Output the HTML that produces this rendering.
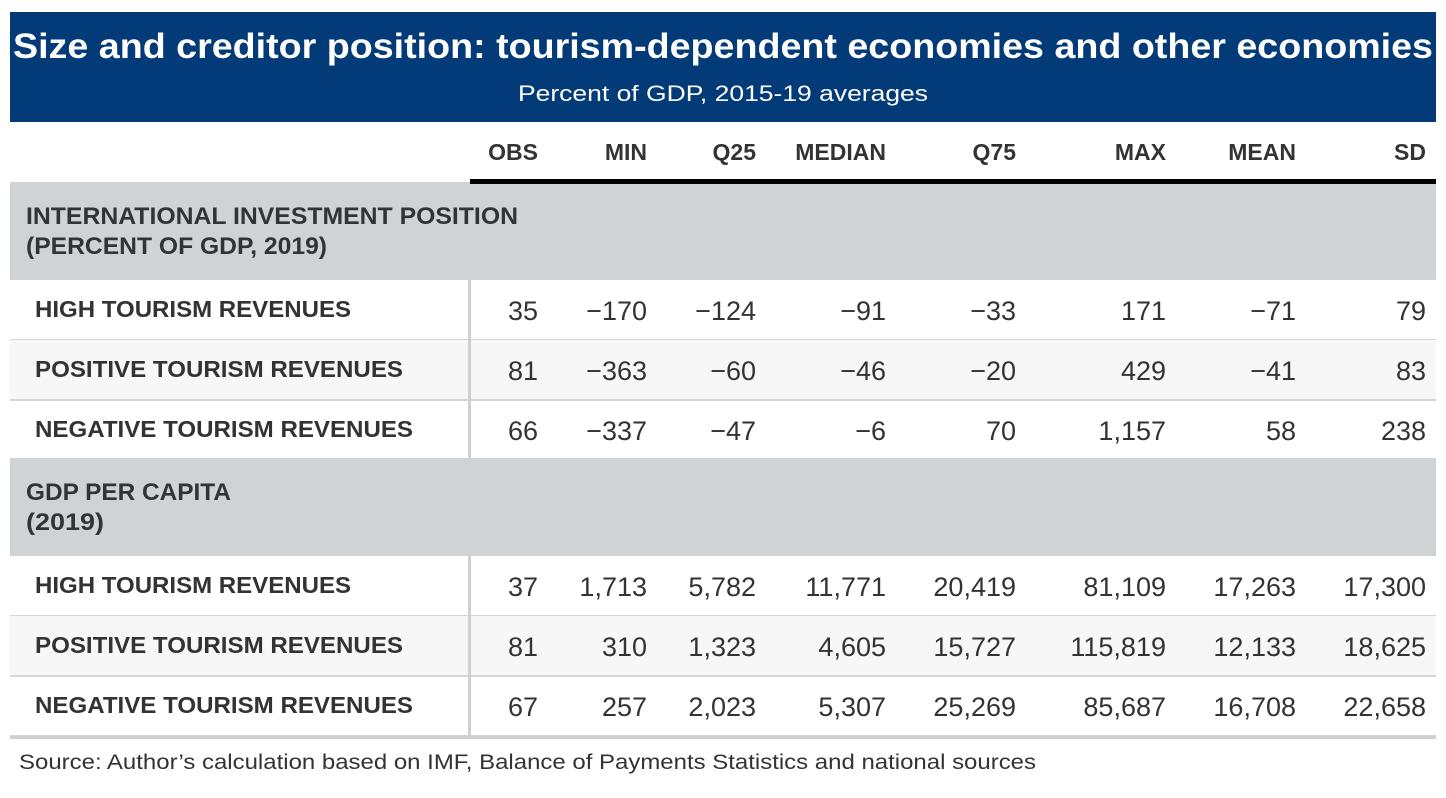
<!DOCTYPE html>
<html><head><meta charset="utf-8"><style>
html,body{margin:0;padding:0;background:#fff;}
svg{display:block;font-family:"Liberation Sans",Arial,sans-serif;}
</style></head><body>
<svg id="t" width="1446" height="798" xmlns="http://www.w3.org/2000/svg">
<rect x="10" y="12" width="1426" height="110" fill="#033a78"/>
<text x="723" y="58" text-anchor="middle" fill="#fff" font-size="35" font-weight="bold" textLength="1420" lengthAdjust="spacingAndGlyphs">Size and creditor position: tourism-dependent economies and other economies</text>
<text x="723" y="101" text-anchor="middle" fill="#fff" font-size="22" textLength="410" lengthAdjust="spacingAndGlyphs">Percent of GDP, 2015-19 averages</text>
<g id="body"></g>
<text x="19" y="769" fill="#333" font-size="21" textLength="1017" lengthAdjust="spacingAndGlyphs">Source: Author’s calculation based on IMF, Balance of Payments Statistics and national sources</text>
</svg>
<script>
const columns=["OBS","MIN","Q25","MEDIAN","Q75","MAX","MEAN","SD"];
const rowLabels=["HIGH TOURISM REVENUES","POSITIVE TOURISM REVENUES","NEGATIVE TOURISM REVENUES"];
const sectionTitles=[["INTERNATIONAL INVESTMENT POSITION","(PERCENT OF GDP, 2019)"],["GDP PER CAPITA","(2019)"]];
const iipValues=[["35","−170","−124","−91","−33","171","−71","79"],["81","−363","−60","−46","−20","429","−41","83"],["66","−337","−47","−6","70","1,157","58","238"]];
const gdpValues=[["37","1,713","5,782","11,771","20,419","81,109","17,263","17,300"],["81","310","1,323","4,605","15,727","115,819","12,133","18,625"],["67","257","2,023","5,307","25,269","85,687","16,708","22,658"]];
const NS="http://www.w3.org/2000/svg";
const g=document.getElementById('body');
const colRight=[538,647,756,886,1016,1166,1296,1426];
const titleLens=[[492,301],[205,78]];
function el(tag,attrs,txt){const e=document.createElementNS(NS,tag);for(const k in attrs)e.setAttribute(k,attrs[k]);if(txt!==undefined)e.textContent=txt;g.appendChild(e);return e;}
columns.forEach((c,i)=>{const e=el('text',{x:colRight[i],y:160,'text-anchor':'end','font-size':23,'font-weight':'bold',fill:'#333'},c);

});
const sections=[{y:182,vals:iipValues},{y:458,vals:gdpValues}];
sections.forEach((s,si)=>{
 const r=el('rect',{x:10,y:s.y,width:1426,height:98,fill:'#d0d3d5'});
 
 
 sectionTitles[si].forEach((t,li)=>{const e=el('text',{x:26,y:s.y+42+li*30,'font-size':24,'font-weight':'bold',fill:'#333',textLength:titleLens[si][li],lengthAdjust:'spacingAndGlyphs'},t);
 
 });
 s.vals.forEach((row,ri)=>{
  const y=s.y+98+ri*60;
  if(ri==1){const b=el('rect',{x:10,y:y,width:1426,height:60,fill:'#f7f7f7'});}
  const lb=el('text',{x:35,y:y+37,'font-size':23,'font-weight':'bold',fill:'#333',textLength:[316,368,378][ri],lengthAdjust:'spacingAndGlyphs'},rowLabels[ri]);
  
  
  row.forEach((v,ci)=>{const t=el('text',{x:colRight[ci],y:y+40,'text-anchor':'end','font-size':27,fill:'#333'},v);
   
   });
  const ln=el('rect',{x:10,y:y+59,width:1426,height:2,fill:'#d6d6d6'});
  
  
 });
 const v=el('rect',{x:468,y:s.y+98,width:3,height:180,fill:'#d0d0d0'});
 
 
});
const bot=el('rect',{x:10,y:736,width:1426,height:3,fill:'#d0d0d0'});


const hl=el('rect',{x:470,y:179,width:966,height:5,fill:'#000'});


</script>
</body></html>
